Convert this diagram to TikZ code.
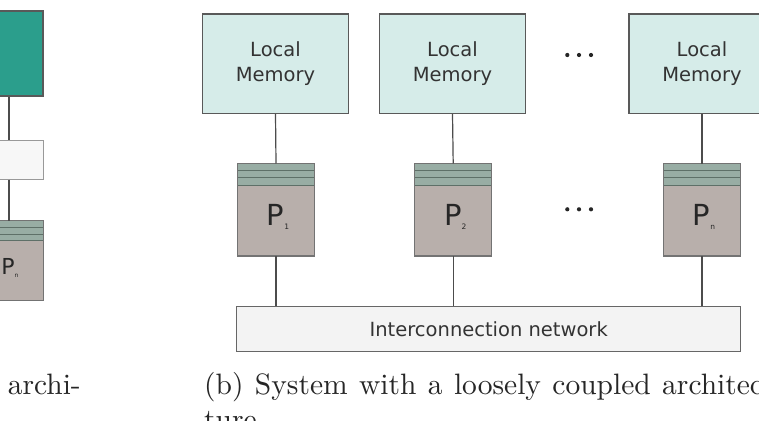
\documentclass[tikz,border=0pt]{standalone}
\usepackage{fontspec}
\newfontfamily\dejavu{DejaVu Sans}
\newfontfamily\capfont{lmroman10-regular}[Extension=.otf]
\newcommand\capsetup{\capfont\fontsize{29.5}{35.4}\selectfont\spaceskip=11.4pt plus 2pt minus 2pt\relax}
\begin{document}
\begin{tikzpicture}[x=1pt,y=-1pt,
  edge/.style={draw=black!70, line width=1.2pt},
  membox/.style={draw=black!65, line width=1.2pt, fill=memfill, minimum width=146pt, minimum height=99.3pt, inner sep=0pt, align=center, font=\dejavu\fontsize{19.5}{25}\selectfont, text=black!80},
  pbox/.style={draw=black!55, line width=1pt, fill=pfill, minimum width=76.5pt, minimum height=91.5pt, inner sep=0pt},
  plabel/.style={font=\dejavu\fontsize{29}{29}\selectfont, text=black!85, inner sep=0pt},
  netbox/.style={draw=black!60, line width=1.1pt, fill=netfill, minimum width=504pt, minimum height=45pt, inner sep=0pt, font=\dejavu\fontsize{19.5}{25}\selectfont, text=black!80},
  caption/.style={text=black!85, inner sep=0pt},
]
\definecolor{memfill}{HTML}{D6ECE9}
\definecolor{pfill}{HTML}{B8AFAB}
\definecolor{stripe}{HTML}{98ADA4}
\definecolor{stripeline}{HTML}{5E7068}
\definecolor{netfill}{HTML}{F3F3F3}
\definecolor{tealbox}{HTML}{2B9E8C}
\useasboundingbox (0,0) rectangle (759,420);
\clip (0,0) rectangle (759,420);
\fill[white] (0,0) rectangle (759,420);

% ---- left (a) partial ----
\node[draw=black!65, line width=1.2pt, fill=tealbox, minimum width=100pt, minimum height=85pt, inner sep=0pt] (amem) at (-7,53.5) {};
\node[draw=black!40, line width=1pt, fill=black!3, minimum width=100pt, minimum height=39pt, inner sep=0pt] (abus) at (-7,159.5) {};
\node[draw=black!55, line width=1pt, fill=pfill, minimum width=68pt, minimum height=79pt, inner sep=0pt] (apn) at (9,260.5) {};
\fill[stripe] (apn.north west) rectangle ([yshift=-20pt]apn.north east);
\draw[stripeline, line width=0.8pt] ([yshift=-6.7pt]apn.north west) -- ([yshift=-6.7pt]apn.north east)
  ([yshift=-14pt]apn.north west) -- ([yshift=-14pt]apn.north east)
  ([yshift=-20pt]apn.north west) -- ([yshift=-20pt]apn.north east);
\draw[draw=black!55, line width=1pt] (apn.north west) rectangle (apn.south east);
\node[font=\dejavu\fontsize{22}{22}\selectfont, text=black!85, inner sep=0pt] (apl) at (10,268) {P\raisebox{-3pt}{\fontsize{6}{6}\selectfont n}};
\draw[edge] (amem.south -| apn.north) -- (abus.north -| apn.north);
\draw[edge] (abus.south -| apn.north) -- (apn.north);
\node[caption, anchor=base east] (capa) at (81,394.3) {\capsetup tightly coupled archi-};

% ---- right (b) ----
\node[membox] (m1) at (275.5,63.7) {Local\\Memory};
\node[membox] (m2) at (452.5,63.7) {Local\\Memory};
\node[membox] (m3) at (702,63.7) {Local\\Memory};

\foreach \n/\x/\s in {p1/276/1, p2/453.2/2, p3/702/n}{
  \node[pbox] (\n) at (\x,209.75) {};
  \fill[stripe] (\n.north west) rectangle ([yshift=-21.5pt]\n.north east);
  \draw[stripeline, line width=0.8pt] ([yshift=-7pt]\n.north west) -- ([yshift=-7pt]\n.north east)
    ([yshift=-14pt]\n.north west) -- ([yshift=-14pt]\n.north east)
    ([yshift=-21.5pt]\n.north west) -- ([yshift=-21.5pt]\n.north east);
  \draw[draw=black!55, line width=1pt] (\n.north west) rectangle (\n.south east);
  \node[plabel] (\n l) at (\x+2,217) {P\raisebox{-4pt}{\fontsize{7.5}{7.5}\selectfont\s}};
}

\node[netbox] (net) at (488.7,329.2) {Interconnection network};

\draw[edge] (m1.south) -- (p1.north);
\draw[edge] (m2.south) -- (p2.north);
\draw[edge] (m3.south) -- (p3.north);
\draw[edge] (p1.south) -- (p1.south |- net.north);
\draw[edge] (p2.south) -- (p2.south |- net.north);
\draw[edge] (p3.south) -- (p3.south |- net.north);

% dots
\foreach \y in {55,209.3}{
  \foreach \x in {567.3,579,591}{
    \fill[black!85] (\x,\y) circle (2.1pt);
  }
}

\node[caption, anchor=base west] (capb) at (204,394.3) {\capsetup (b) System with a loosely coupled architec-};
\node[caption, anchor=base west] (capb2) at (204,429.7) {\capsetup ture.};
\end{tikzpicture}
\end{document}
